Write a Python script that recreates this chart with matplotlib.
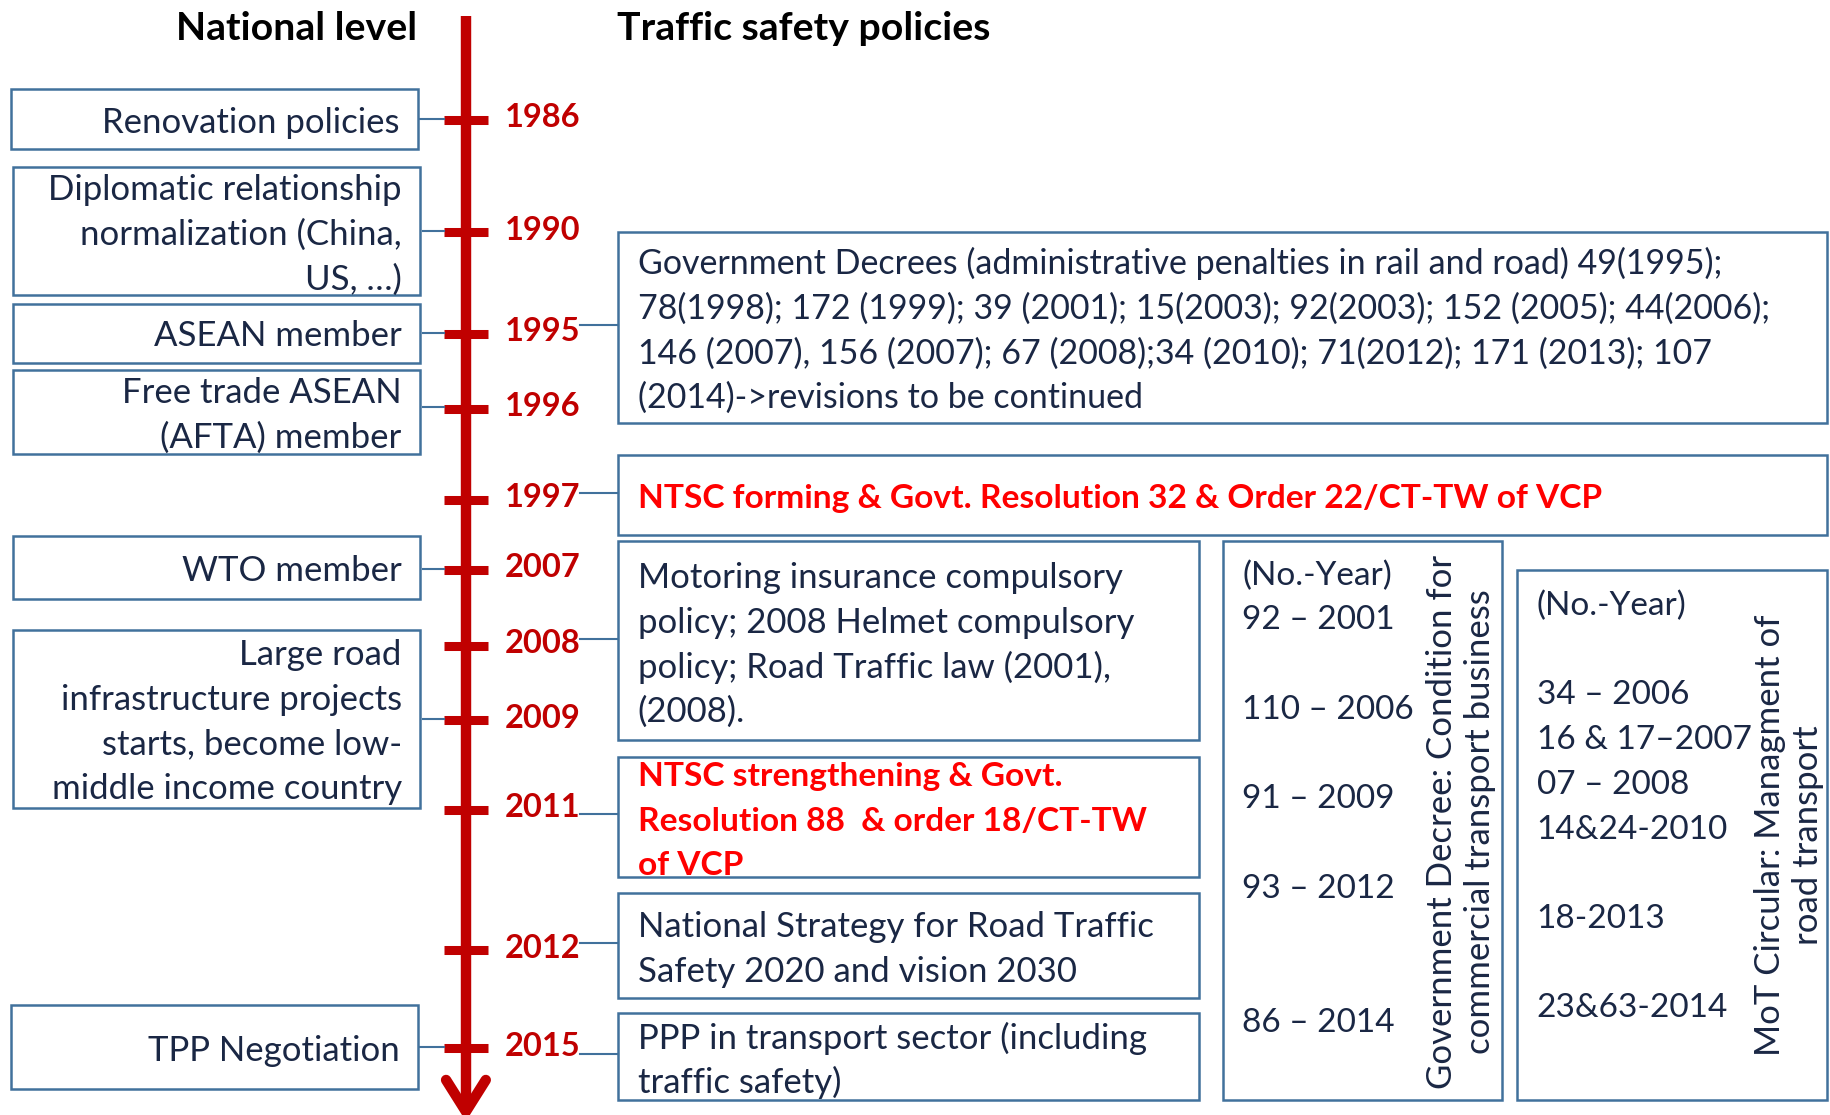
import matplotlib.pyplot as plt
from matplotlib.patches import Rectangle

# Tidslinja: år og kvar dei står (y i skjermkoordinatar, 1568x955-rutenett)
years = ['1986', '1990', '1995', '1996', '1997', '2007', '2008', '2009', '2011', '2012', '2015']
tick_y = [103, 199, 286, 350, 428, 488, 553, 617, 694, 814, 898]

# Hendingar på nasjonalt nivå (venstre side)
national_text = [
    ['Renovation policies'],
    ['Diplomatic relationship', 'normalization (China,', 'US, \u2026)'],
    ['ASEAN member'],
    ['Free trade ASEAN', '(AFTA) member'],
    ['WTO member'],
    ['Large road', 'infrastructure projects', 'starts, become low-', 'middle income country'],
    ['TPP Negotiation'],
]
national_year = ['1986', '1990', '1995', '1996', '2007', '2009', '2015']

# Trafikktryggleik (høgre side)
policy_text = [
    ['Government Decrees (administrative penalties in rail and road) 49(1995);',
     '78(1998); 172 (1999); 39 (2001); 15(2003); 92(2003); 152 (2005); 44(2006);',
     '146 (2007), 156 (2007); 67 (2008);34 (2010); 71(2012); 171 (2013); 107',
     '(2014)->revisions to be continued'],
    ['NTSC forming & Govt. Resolution 32 & Order 22/CT-TW of VCP'],
    ['Motoring insurance compulsory', 'policy; 2008 Helmet compulsory',
     'policy; Road Traffic law (2001),', '(2008).'],
    ['NTSC strengthening & Govt.', 'Resolution 88  & order 18/CT-TW', 'of VCP'],
    ['National Strategy for Road Traffic', 'Safety 2020 and vision 2030'],
    ['PPP in transport sector (including', 'traffic safety)'],
]
policy_year = ['1995', '1997', '2008', '2011', '2012', '2015']
policy_red = [False, True, False, True, False, False]

decree_lines = ['(No.-Year)', '92 \u2013 2001', '', '110 \u2013 2006', '', '91 \u2013 2009', '',
                '93 \u2013 2012', '', '', '86 \u2013 2014']
decree_title = 'Government Decree: Condition for\ncommercial transport business'
circular_lines = ['(No.-Year)', '', '34 \u2013 2006', '16 & 17\u20132007', '07 \u2013 2008',
                  '14&24-2010', '', '18-2013', '', '23&63-2014']
circular_title = 'MoT Circular: Managment of\nroad transport'

# Layout (boksar: x0, y0, x1, y1, første linje y)
national_box = [(9, 76, 358, 128, 103), (11, 143, 360, 253, 161), (11, 260, 360, 311, 286),
                (11, 317, 360, 389, 335), (11, 459, 360, 513, 487), (11, 540, 360, 692, 559),
                (9, 861, 358, 933, 898)]
policy_box = [(529, 199, 1565, 362, 224), (529, 390, 1565, 458, 425), (529, 463, 1027, 634, 493),
              (529, 648, 1027, 751, 663), (529, 765, 1027, 855, 792), (529, 868, 1027, 942, 887)]
policy_conn_y = [278, 422, 547, 697, 808, 903]
line_h = 38.3
dy = 2  # litt ned for å treffe tekstlinjene

plt.rcParams['font.family'] = ['Lato', 'DejaVu Sans']
TXT = '#1a2744'
EDGE = '#41719c'
DRED = '#c00000'
RED = '#ff0000'
FS = 25
FS_RED = 24.1
FS_NUM = 24

fig = plt.figure(figsize=(18.31, 11.15), dpi=100)
ax = fig.add_axes([0, 0, 1, 1])
ax.set_xlim(0, 1568)
ax.set_ylim(955, 0)
ax.axis('off')

def box(x0, y0, x1, y1):
    ax.add_patch(Rectangle((x0, y0), x1 - x0, y1 - y0, fill=False, ec=EDGE, lw=1.8))

# overskrifter
ax.text(357, 22 + dy, 'National level', ha='right', va='center', fontsize=28.3, fontweight='bold', color='black')
ax.text(528, 22 + dy, 'Traffic safety policies', ha='left', va='center', fontsize=28.3, fontweight='bold', color='black')

# tidslinja med pil
ax.plot([399, 399], [14, 948], color=DRED, lw=7.5, solid_capstyle='butt')
ax.plot([382, 399, 416], [925, 952, 925], color=DRED, lw=7.5, solid_capstyle='round', solid_joinstyle='miter')
for yr, y in zip(years, tick_y):
    ax.plot([380, 418], [y, y], color=DRED, lw=6.5, solid_capstyle='butt')
    ax.text(432, y - 4 + dy, yr, ha='left', va='center', fontsize=23.5, fontweight='bold', color=DRED)

ymap = dict(zip(years, tick_y))

# venstre boksar
for lines, yr, (x0, y0, x1, y1, ty) in zip(national_text, national_year, national_box):
    box(x0, y0, x1, y1)
    for i, ln in enumerate(lines):
        ax.text(x1 - 16, ty + dy + i * line_h, ln, ha='right', va='center', fontsize=FS, color=TXT)
    ax.plot([x1 + 2, 380], [ymap[yr] - 1, ymap[yr] - 1], color=EDGE, lw=1.5)

# høgre boksar
for k, (lines, yr, red, (x0, y0, x1, y1, ty), cy) in enumerate(
        zip(policy_text, policy_year, policy_red, policy_box, policy_conn_y)):
    box(x0, y0, x1, y1)
    fs = FS_RED if red else (24.5 if k == 0 else FS)
    for i, ln in enumerate(lines):
        ax.text(x0 + 17, ty + dy + i * line_h, ln, ha='left', va='center', fontsize=fs,
                color=RED if red else TXT, fontweight='bold' if red else 'normal')
    ax.plot([497, x0], [cy, cy], color=EDGE, lw=1.5)

# dekret-boksen
box(1047, 463, 1286, 942)
for i, ln in enumerate(decree_lines):
    ax.text(1064, 491 + dy + i * line_h, ln, ha='left', va='center', fontsize=FS_NUM, color=TXT)
ax.text(1251, 704, decree_title, ha='center', va='center', rotation=90, fontsize=FS,
        color=TXT, multialignment='center', linespacing=1.22)

# rundskriv-boksen
box(1299, 488, 1565, 942)
for i, ln in enumerate(circular_lines):
    ax.text(1316, 517 + dy + i * line_h, ln, ha='left', va='center', fontsize=FS_NUM, color=TXT)
ax.text(1532, 715, circular_title, ha='center', va='center', rotation=90, fontsize=FS,
        color=TXT, multialignment='center', linespacing=1.22)

fig.savefig('out.png', dpi=100)
